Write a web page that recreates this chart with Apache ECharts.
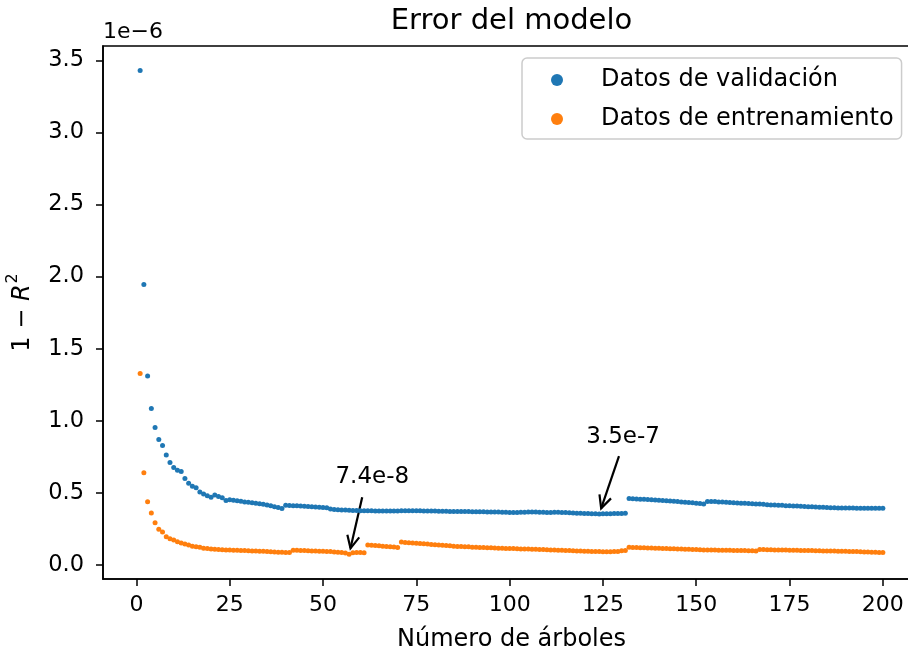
<!DOCTYPE html>
<html><head><meta charset="utf-8">
<script src="https://cdn.jsdelivr.net/npm/echarts@6/dist/echarts.min.js"></script>
<style>html,body{margin:0;padding:0;background:#fff}#c{width:908px;height:652px}</style>
</head><body><div id="c"></div>
<script>
const FONT = 'DejaVu Sans';

// Número de árboles (1..200)
const arboles = [];
for (let i = 1; i <= 200; i++) arboles.push(i);

// 1 - R^2, en unidades de 1e-6
const validacion = [
 3.43, 1.945, 1.31, 1.085, 0.953, 0.87, 0.828, 0.763, 0.71, 0.676,
 0.657, 0.648, 0.60, 0.567, 0.545, 0.535, 0.505, 0.492, 0.480, 0.469,
 0.484, 0.474, 0.465, 0.447, 0.452, 0.448, 0.445, 0.442, 0.437, 0.434,
 0.431, 0.428, 0.424, 0.420, 0.415, 0.410, 0.404, 0.398, 0.392, 0.413,
 0.412, 0.411, 0.410, 0.409, 0.407, 0.405, 0.404, 0.402, 0.400, 0.398,
 0.396, 0.388, 0.384, 0.382, 0.381, 0.380, 0.379, 0.378, 0.377, 0.376,
 0.376, 0.375, 0.375, 0.374, 0.374, 0.373, 0.373, 0.373, 0.374, 0.374,
 0.375, 0.375, 0.376, 0.376, 0.376, 0.375, 0.374, 0.374, 0.373, 0.373,
 0.372, 0.372, 0.372, 0.371, 0.371, 0.371, 0.370, 0.370, 0.370, 0.369,
 0.369, 0.368, 0.368, 0.367, 0.367, 0.366, 0.366, 0.365, 0.365, 0.364,
 0.364, 0.364, 0.365, 0.365, 0.366, 0.366, 0.366, 0.365, 0.365, 0.364,
 0.364, 0.365, 0.365, 0.364, 0.363, 0.362, 0.360, 0.359, 0.358, 0.357,
 0.356, 0.355, 0.354, 0.353, 0.354, 0.354, 0.355, 0.356, 0.357, 0.357,
 0.358, 0.461, 0.459, 0.457, 0.456, 0.455, 0.453, 0.452, 0.450, 0.448,
 0.447, 0.445, 0.443, 0.441, 0.439, 0.437, 0.435, 0.433, 0.431, 0.428,
 0.425, 0.422, 0.440, 0.440, 0.439, 0.437, 0.436, 0.434, 0.433, 0.431,
 0.430, 0.428, 0.427, 0.426, 0.424, 0.423, 0.422, 0.420, 0.418, 0.416,
 0.415, 0.414, 0.413, 0.411, 0.410, 0.409, 0.408, 0.406, 0.405, 0.404,
 0.403, 0.401, 0.400, 0.399, 0.398, 0.397, 0.396, 0.395, 0.394, 0.394,
 0.394, 0.394, 0.393, 0.393, 0.393, 0.393, 0.393, 0.393, 0.393, 0.393
];
const entrenamiento = [
 1.327, 0.64, 0.438, 0.36, 0.293, 0.247, 0.228, 0.196, 0.182, 0.173,
 0.161, 0.152, 0.145, 0.138, 0.129, 0.125, 0.122, 0.116, 0.113, 0.111,
 0.109, 0.107, 0.105, 0.104, 0.103, 0.102, 0.101, 0.100, 0.099, 0.098,
 0.097, 0.096, 0.095, 0.094, 0.093, 0.091, 0.089, 0.088, 0.087, 0.086,
 0.086, 0.102, 0.101, 0.100, 0.099, 0.098, 0.097, 0.096, 0.095, 0.094,
 0.093, 0.092, 0.090, 0.088, 0.086, 0.082, 0.074, 0.084, 0.085, 0.085,
 0.084, 0.138, 0.136, 0.134, 0.132, 0.130, 0.128, 0.126, 0.124, 0.121,
 0.158, 0.156, 0.154, 0.152, 0.150, 0.148, 0.146, 0.144, 0.142, 0.140,
 0.138, 0.136, 0.134, 0.132, 0.130, 0.128, 0.127, 0.126, 0.125, 0.123,
 0.122, 0.121, 0.120, 0.119, 0.118, 0.117, 0.116, 0.115, 0.114, 0.114,
 0.113, 0.112, 0.111, 0.111, 0.110, 0.109, 0.108, 0.107, 0.106, 0.105,
 0.104, 0.103, 0.102, 0.101, 0.100, 0.099, 0.098, 0.097, 0.096, 0.095,
 0.094, 0.093, 0.092, 0.092, 0.091, 0.091, 0.091, 0.092, 0.092, 0.098,
 0.099, 0.122, 0.121, 0.120, 0.119, 0.118, 0.117, 0.117, 0.116, 0.115,
 0.114, 0.113, 0.112, 0.112, 0.111, 0.110, 0.109, 0.108, 0.107, 0.106,
 0.105, 0.104, 0.104, 0.103, 0.103, 0.102, 0.102, 0.101, 0.101, 0.100,
 0.100, 0.099, 0.099, 0.098, 0.098, 0.097, 0.106, 0.106, 0.105, 0.105,
 0.104, 0.104, 0.103, 0.103, 0.102, 0.101, 0.101, 0.100, 0.100, 0.099,
 0.099, 0.098, 0.098, 0.097, 0.097, 0.096, 0.096, 0.095, 0.095, 0.094,
 0.093, 0.092, 0.092, 0.091, 0.090, 0.089, 0.088, 0.087, 0.086, 0.085
];

const xTicks = [0, 25, 50, 75, 100, 125, 150, 175, 200];
const yTicks = [0, 0.5, 1, 1.5, 2, 2.5, 3, 3.5];

const anotaciones = [
  { texto: '7.4e-8', punto: [57, 0.074], textoPos: [63.2, 0.61], desde: [60.5, 0.47] },
  { texto: '3.5e-7', punto: [124, 0.353], textoPos: [130.4, 0.89], desde: [129.3, 0.754] }
];

const chart = echarts.init(document.getElementById('c'), null, { renderer: 'canvas' });

const axisCommon = {
  type: 'value',
  splitLine: { show: false },
  axisLine: { show: true, onZero: false, lineStyle: { color: '#000', width: 1.6 } },
  axisTick: { show: true, inside: false, length: 7, lineStyle: { color: '#000', width: 1.5 } },
  nameLocation: 'middle',
  nameTextStyle: { fontSize: 24, color: '#000', fontFamily: FONT }
};

chart.setOption({
  animation: false,
  backgroundColor: '#fff',
  textStyle: { fontFamily: FONT },
  grid: { left: 103, top: 46, right: -12, bottom: 73, show: true, borderColor: '#000', borderWidth: 1.6, containLabel: false, outerBoundsMode: 'none' },
  xAxis: Object.assign({}, axisCommon, {
    min: -8.95, max: 209.95,
    axisTick: Object.assign({}, axisCommon.axisTick, { customValues: xTicks }),
    axisLabel: { customValues: xTicks, fontSize: 22, color: '#000', fontFamily: FONT, margin: 15 },
    name: 'Número de árboles', nameGap: 49
  }),
  yAxis: Object.assign({}, axisCommon, {
    min: -0.098, max: 3.6,
    axisTick: Object.assign({}, axisCommon.axisTick, { customValues: yTicks }),
    axisLabel: { customValues: yTicks, fontSize: 22.5, color: '#000', fontFamily: FONT, margin: 19, formatter: v => v.toFixed(1) },
    name: '1 − {r|R}{s|2}', nameGap: 62, nameRotate: 90,
    nameTextStyle: { fontSize: 24, color: '#000', fontFamily: FONT,
      rich: { r: { fontSize: 24, fontStyle: 'italic', fontFamily: FONT, color: '#000' },
              s: { fontSize: 16, fontFamily: FONT, color: '#000', padding: [0, 0, 20, 1] } } }
  }),
  legend: {
    left: 522, top: 58, orient: 'vertical', icon: 'circle',
    itemWidth: 12, itemHeight: 12, itemGap: 15,
    padding: [10, 8, 8, 29],
    borderColor: '#cccccc', borderWidth: 1.5, borderRadius: 5,
    backgroundColor: 'rgba(255,255,255,0.8)',
    textStyle: { fontSize: 24, color: '#000', fontFamily: FONT, padding: [0, 0, 0, 33] },
    data: ['Datos de validación', 'Datos de entrenamiento']
  },
  series: [
    { name: 'Datos de validación', type: 'scatter', symbolSize: 5, itemStyle: { color: '#1f77b4', opacity: 1 },
      data: validacion.map((v, i) => [arboles[i], v]), emphasis: { disabled: true } },
    { name: 'Datos de entrenamiento', type: 'scatter', symbolSize: 5, itemStyle: { color: '#ff7f0e', opacity: 1 },
      data: entrenamiento.map((v, i) => [arboles[i], v]), emphasis: { disabled: true } }
  ],
  graphic: [
    { id: 'titulo', type: 'text', x: 511.5, y: 21, style: { text: 'Error del modelo', font: '29px "DejaVu Sans"', fill: '#000', textAlign: 'center', textVerticalAlign: 'middle' } },
    { id: 'offset', type: 'text', x: 103, y: 32, style: { text: '1e−6', font: '22px "DejaVu Sans"', fill: '#000', textAlign: 'left', textVerticalAlign: 'middle' } }
  ]
});

// Anotaciones con flecha (posiciones calculadas desde coordenadas de datos)
const extra = [];
anotaciones.forEach((a, k) => {
  const p = chart.convertToPixel({ gridIndex: 0 }, a.punto);
  const t = chart.convertToPixel({ gridIndex: 0 }, a.textoPos);
  const s = chart.convertToPixel({ gridIndex: 0 }, a.desde);
  const dx = p[0] - s[0], dy = p[1] - s[1];
  const L = Math.hypot(dx, dy);
  const ux = dx / L, uy = dy / L;
  const tip = [p[0] - ux * 6, p[1] - uy * 6];
  const hl = 14, ang = 0.45;
  const back = (sgn) => {
    const c = Math.cos(sgn * ang), sn = Math.sin(sgn * ang);
    const bx = -ux, by = -uy;
    return [tip[0] + hl * (bx * c - by * sn), tip[1] + hl * (bx * sn + by * c)];
  };
  extra.push({ id: 'at' + k, type: 'text', x: t[0], y: t[1], style: { text: a.texto, font: '23px "DejaVu Sans"', fill: '#000', textAlign: 'center', textVerticalAlign: 'middle' } });
  extra.push({ id: 'al' + k, type: 'line', shape: { x1: s[0], y1: s[1], x2: tip[0], y2: tip[1] }, style: { stroke: '#000', lineWidth: 2.2 } });
  extra.push({ id: 'ah' + k, type: 'polyline', shape: { points: [back(1), tip, back(-1)] }, style: { stroke: '#000', lineWidth: 2.2, fill: null } });
});
chart.setOption({ graphic: extra });
</script>
</body></html>
